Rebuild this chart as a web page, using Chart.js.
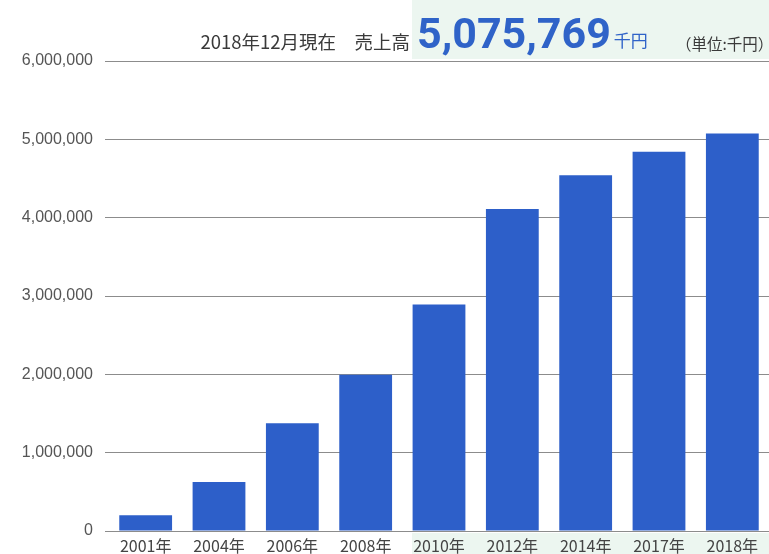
<!DOCTYPE html>
<html lang="ja">
<head>
<meta charset="utf-8">
<title>売上高推移</title>
<script src="https://cdn.jsdelivr.net/npm/chart.js@4.4.1/dist/chart.umd.min.js"></script>
<style>
  html, body { margin: 0; padding: 0; background: #fff; }
  #wrap { width: 769px; height: 554px; position: relative; }
</style>
</head>
<body>
<div id="wrap"><canvas id="uriageGrafico"></canvas></div>
<script>
// 売上高の推移 (単位:千円)
const years = ['2001年', '2004年', '2006年', '2008年', '2010年', '2012年', '2014年', '2017年', '2018年'];
const sales = [202000, 626000, 1375000, 1995000, 2890000, 4110000, 4540000, 4843000, 5075769];
const yTicks = [0, 1000000, 2000000, 3000000, 4000000, 5000000, 6000000];

const JP = '"Noto Sans CJK JP", "Noto Sans", sans-serif';

// 背景の薄い緑と見出しテキスト
const decor = {
  id: 'decor',
  beforeDraw(chart) {
    const c = chart.ctx;
    c.save();
    c.fillStyle = '#ecf6f0';
    c.fillRect(412, 0, 357, 59);
    c.fillRect(412, 533, 357, 21);
    c.restore();
  },
  afterDraw(chart) {
    const c = chart.ctx;
    c.save();
    c.textBaseline = 'alphabetic';
    c.fillStyle = '#3a3a3a';
    c.font = '18.5px ' + JP;
    c.textAlign = 'right';
    c.fillText('2018年12月現在\u3000売上高', 410, 49);

    c.textAlign = 'left';
    c.fillStyle = '#2f63c8';
    c.font = 'bold 43px Roboto, sans-serif';
    const total = sales[sales.length - 1].toLocaleString('en-US');
    c.fillText(total, 417, 48);
    const w = c.measureText(total).width;
    c.font = '17px ' + JP;
    c.fillText('千円', 417 + w + 3, 47);

    c.fillStyle = '#3a3a3a';
    c.font = '15.5px ' + JP;
    c.fillText('（単位:千円）', 676, 50);
    c.restore();
  }
};

const ctx = document.getElementById('uriageGrafico').getContext('2d');

const uriageGrafico = new Chart(ctx, {
  type: 'bar',
  data: {
    labels: years,
    datasets: [{
      label: '売上高',
      data: sales,
      backgroundColor: '#2d5fc9',
      borderWidth: 0,
      barPercentage: 0.72,
      categoryPercentage: 1
    }]
  },
  options: {
    responsive: true,
    maintainAspectRatio: false,
    animation: false,
    layout: { padding: { top: 61, right: 0, bottom: 0, left: 0 } },
    plugins: {
      legend: { display: false },
      tooltip: { enabled: false }
    },
    scales: {
      x: {
        afterFit(axis) { axis.height = 23; },
        grid: { display: false, drawTicks: false },
        border: { display: false },
        ticks: {
          color: '#444',
          padding: 5,
          font: { family: JP, size: 16 }
        }
      },
      y: {
        min: 0,
        max: 6000000,
        afterFit(axis) { axis.width = 109; },
        afterBuildTicks(axis) { axis.ticks = yTicks.map(v => ({ value: v })); },
        grid: { color: '#8c8c8c', lineWidth: 1, tickLength: 4 },
        border: { display: false },
        ticks: {
          color: '#555',
          padding: 12,
          font: { family: '"Liberation Sans", Arial, sans-serif', size: 16 },
          callback: v => v.toLocaleString('en-US')
        }
      }
    }
  },
  plugins: [decor]
});
</script>
</body>
</html>
